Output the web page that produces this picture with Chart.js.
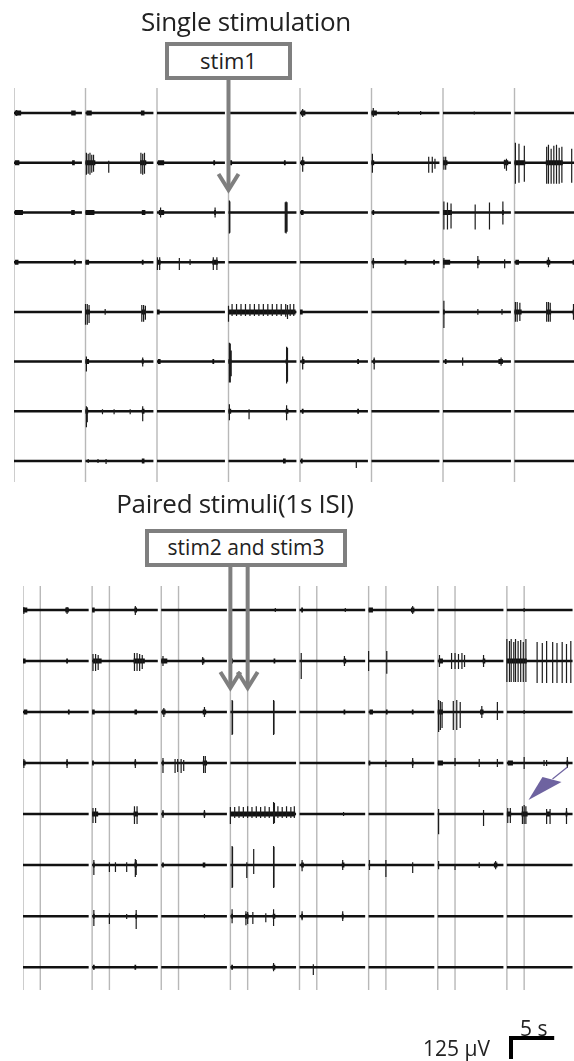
<!DOCTYPE html>
<html>
<head>
<meta charset="utf-8">
<script src="https://cdn.jsdelivr.net/npm/chart.js@4.4.0/dist/chart.umd.min.js"></script>
<style>
  html, body { margin: 0; padding: 0; width: 574px; height: 1061px; overflow: hidden; background: #fff; }
  body { position: relative; font-family: 'Open Sans', sans-serif; color: #222; }
  canvas { position: absolute; left: 0; }
  .txt { position: absolute; white-space: nowrap; line-height: 1; }
  .title { font-size: 26px; width: 400px; text-align: center; letter-spacing: -0.3px; }
  .box { position: absolute; box-sizing: border-box; border: 4px solid #7f7f7f; background: #fff;
         text-align: center; line-height: 29px; }
  .lbl { font-size: 21px; }
</style>
</head>
<body>
<canvas id="mapTop" width="586" height="500" style="top:0"></canvas>
<canvas id="mapBottom" width="576" height="571" style="top:490px"></canvas>

<div class="txt title" style="left:46px; top:8px">Single stimulation</div>
<div class="box" style="left:165px; top:42px; width:127px; height:38px; font-size:22px">stim1</div>

<div class="txt title" style="left:35px; top:490px">Paired stimuli(1s ISI)</div>
<div class="box" style="left:145px; top:529px; width:202px; height:38px; font-size:21px">stim2 and stim3</div>

<div class="txt lbl" style="left:520px; top:1018px">5 s</div>
<div class="txt lbl" style="left:423px; top:1038px">125 µV</div>

<script>
/* MEA raster: 8 x 8 electrodes, one trace per cell */

const N_COLS = 8, N_ROWS = 8;
const COL_SPAN = 8;      // s per electrode column
const TRACE_LEN = 7.6;   // s of trace drawn in each column
const ROW_GAP_TOP = 270, ROW_GAP_BOTTOM = 277;   // µV between rows
const STIM_MARKS_TOP = [0];        // marker lines inside each column (s)
const STIM_MARKS_BOTTOM = [0, 2];
const STIM_TIMES_TOP = [24];       // stim1
const STIM_TIMES_BOTTOM = [24, 26]; // stim2, stim3
const SCALE_T = 5, SCALE_V = 125;  // scale bar: 5 s, 125 µV

// dense activity segments: [col, t0, t1]
const bandsTop = [
  [[0,0.1,0.8],[0,6.4,6.9],[1,0.1,0.7],[1,6.2,6.6],[4,0.1,0.6],[5,0.0,0.6]],
  [[0,0.1,0.6],[0,6.5,6.8],[1,0.0,1.1],[1,6.1,6.8],[2,0.1,0.8],[2,6.3,6.5],[3,0.0,0.4],[3,6.2,6.4],[4,0.1,0.5],[5,0.0,0.3],[6,0.0,0.5],[6,6.8,7.3],[7,0.0,1.2],[7,3.5,5.4]],
  [[0,0.1,1.0],[0,6.4,6.8],[1,0.0,1.0],[1,6.3,6.7],[2,0.2,0.8],[2,6.4,6.6],[4,0.1,0.4],[5,0.1,0.3],[6,0.0,1.0],[6,6.6,6.8]],
  [[0,0.1,0.5],[0,6.7,6.9],[1,0.0,0.4],[1,6.3,6.5],[2,0.0,0.4],[2,6.2,6.8],[5,0.1,0.3],[5,3.7,3.9],[5,6.9,7.1],[6,0.0,0.8],[6,3.8,4.1],[7,0.1,0.5],[7,3.6,4.0],[7,6.5,6.7]],
  [[1,0.0,0.5],[1,6.3,6.7],[2,0.0,0.3],[3,0.0,7.5],[4,0.0,0.3],[6,0.0,0.2],[7,0.0,0.8],[7,3.6,4.1],[7,6.5,6.8]],
  [[1,0.0,0.4],[1,6.3,6.5],[2,0.1,0.4],[2,6.2,6.4],[3,0.0,0.3],[3,6.4,6.6],[4,0.2,0.5],[4,6.4,6.6],[5,0.2,0.4],[6,0.2,0.4],[6,6.2,6.7]],
  [[1,0.0,0.3],[1,6.3,6.6],[3,0.0,0.3],[3,6.4,6.7],[4,0.2,0.4],[4,6.4,6.6]],
  [[1,6.3,6.6],[3,6.1,6.4],[4,0.1,0.3]]
];

// single spikes: [col, t, up µV, down µV]
const spikesTop = [
  [[0,0.3,16,16],[4,0.3,22,22],[5,0.2,27,22],[5,3.0,11,11],[5,5.5,11,11],[6,3.5,8,8]],
  [[1,0.1,54,65],[1,0.3,49,60],[1,0.5,54,65],[1,0.7,43,54],[1,0.9,43,49],[1,2.6,11,54],[1,6.2,54,60],[1,6.4,49,65],[1,6.6,54,60],
   [4,0.3,33,49],[5,0.1,49,54],[5,6.4,33,54],[5,6.8,33,54],[5,7.1,22,33],[6,0.1,33,38],[6,0.3,33,38],[6,6.9,16,33],[6,7.1,22,43],
   [7,0.1,109,114],[7,0.5,103,109],[7,1.1,92,103],[7,3.6,87,114],[7,3.8,98,114],[7,4.1,76,114],[7,4.4,92,114],[7,4.7,98,114],[7,5.0,81,114],[7,5.3,87,109],[7,6.4,76,109]],
  [[2,0.4,27,27],[2,6.5,27,27],[3,0.1,65,114],[3,0.15,60,110],[3,6.35,55,110],[3,6.45,60,114],[3,6.55,55,105],
   [6,0.1,60,92],[6,0.5,54,92],[6,0.9,49,87],[6,3.6,43,92],[6,5.2,54,92],[6,6.7,60,65]],
  [[2,0.05,27,43],[2,0.3,27,43],[2,2.5,22,43],[2,3.7,16,16],[2,6.3,27,43],[2,6.7,27,43],[5,0.2,22,33],[6,0.1,22,33],[6,3.9,33,33],[6,6.9,16,33],[7,3.8,27,27]],
  [[1,0.0,43,70],[1,0.2,43,70],[1,0.4,38,60],[1,2.2,16,16],[1,6.3,38,54],[1,6.5,38,54],[1,6.7,33,43],
   [3,0.0,33,54],[3,0.4,43,22],[3,0.9,43,22],[3,1.4,43,22],[3,1.9,43,22],[3,2.4,43,22],[3,2.9,43,22],[3,3.4,43,22],[3,3.9,43,22],
   [3,4.4,43,22],[3,4.9,43,22],[3,5.4,43,22],[3,5.9,43,22],[3,6.4,43,27],[3,6.6,38,38],[3,6.9,43,22],[3,7.3,43,22],
   [6,0.1,60,87],[6,3.9,16,16],[6,6.6,16,16],[7,0.1,54,54],[7,0.3,54,54],[7,0.6,49,49],[7,3.6,54,54],[7,3.8,54,54],[7,4.0,49,54],[7,6.6,43,43]],
  [[1,0.1,27,54],[1,6.4,22,27],[3,0.1,103,114],[3,0.2,98,114],[3,0.3,60,80],[3,6.5,81,119],[3,6.6,75,110],[4,0.3,27,43],[5,0.3,22,43],[6,2.2,22,22],[6,6.5,22,22]],
  [[1,0.1,27,87],[1,0.2,22,60],[1,1.9,11,16],[1,3.2,11,16],[1,5.0,11,16],[1,6.4,27,54],[3,0.1,38,49],[3,2.3,11,43],[3,6.5,33,49]],
  [[1,0.3,11,11],[1,1.4,11,11],[1,2.3,11,16],[4,6.3,5,38]]
];

const bandsBottom = [
  [[0,0.0,0.5],[0,4.9,5.3],[1,0.0,0.3],[1,4.9,5.2],[4,0.2,0.4],[5,0.0,0.5],[5,4.9,5.3]],
  [[0,0.0,0.3],[0,5.0,5.2],[1,0.1,1.1],[1,4.8,6.1],[2,0.0,0.7],[2,4.7,5.0],[3,0.0,0.3],[3,5.0,5.2],[4,5.1,5.4],[6,0.1,0.6],[6,5.2,5.5],[7,0.0,2.3]],
  [[0,0.1,0.5],[0,5.2,5.4],[1,0.0,0.3],[1,4.9,5.2],[2,0.1,0.5],[2,4.8,5.2],[4,5.1,5.3],[5,0.1,0.5],[5,2.0,2.2],[5,5.0,5.2],[6,0.0,0.6],[6,4.9,5.3]],
  [[0,0.0,0.3],[0,5.0,5.2],[1,0.0,0.2],[1,4.9,5.1],[2,0.1,0.3],[2,4.8,5.3],[5,0.0,0.2],[5,5.0,5.2],[6,0.0,0.6],[7,0.1,0.7],[7,6.9,7.1]],
  [[1,0.0,0.7],[1,4.8,5.3],[2,0.1,0.3],[2,4.9,5.1],[3,0.0,7.5],[7,0.0,0.5],[7,1.7,2.4],[7,4.6,5.0],[7,6.8,7.0]],
  [[1,0.1,0.3],[1,4.9,5.2],[2,0.1,0.3],[2,4.8,5.1],[4,0.2,0.5],[4,4.9,5.2],[6,6.5,6.9]],
  [[1,0.1,0.3],[1,5.0,5.2],[3,0.1,0.3],[3,1.7,2.1],[3,4.9,5.2],[4,0.2,0.4],[4,4.9,5.1]],
  [[1,0.1,0.3],[1,4.9,5.1],[3,0.1,0.3],[3,4.9,5.2]]
];

const spikesBottom = [
  [[0,0.1,16,22],[0,5.1,16,22],[1,5.0,22,27],[3,5.2,11,11],[4,5.3,11,11],[5,5.1,22,22],[7,2.0,11,11]],
  [[1,0.1,38,54],[1,0.4,38,54],[1,0.7,33,49],[1,4.9,43,54],[1,5.2,43,54],[1,5.5,38,54],[1,5.8,33,43],[2,0.2,27,27],[2,4.8,22,22],
   [4,0.2,43,98],[4,5.2,27,27],[5,0.0,54,54],[5,2.1,54,70],[6,0.2,33,33],[6,1.6,43,43],[6,2.0,43,43],[6,2.4,38,43],[6,2.8,43,43],[6,3.1,33,33],[6,5.3,33,33],
   [7,0.0,119,114],[7,0.3,109,114],[7,0.5,119,114],[7,0.8,103,114],[7,1.0,119,114],[7,1.3,109,114],[7,1.6,114,114],[7,1.9,103,114],[7,2.2,119,114],
   [7,3.5,103,119],[7,4.1,98,119],[7,4.6,109,119],[7,5.3,103,119],[7,5.8,98,119],[7,6.4,103,119],[7,6.9,92,119],[7,7.4,109,119]],
  [[2,0.3,22,27],[2,5.0,27,27],[3,0.2,65,125],[3,0.25,60,120],[3,5.0,65,125],[3,5.05,60,120],
   [6,0.1,65,109],[6,0.3,60,98],[6,0.5,54,87],[6,1.8,60,98],[6,2.2,65,98],[6,2.6,54,87],[6,5.1,33,33],[6,6.9,54,43],[7,2.0,11,11]],
  [[0,0.1,22,27],[0,5.1,22,27],[1,5.0,22,27],[2,0.2,27,54],[2,1.6,22,54],[2,1.9,22,49],[2,2.3,22,54],[2,2.6,16,43],[2,4.9,38,54],[2,5.1,38,54],
   [5,2.0,16,22],[5,5.1,27,27],[6,2.0,27,16],[6,4.8,22,22],[6,6.9,22,22],[7,2.0,33,33],[7,4.3,16,16],[7,4.6,16,16],[7,7.0,33,27]],
  [[1,0.1,33,49],[1,0.4,33,49],[1,4.9,43,54],[1,5.2,43,54],[2,0.2,22,22],[2,5.0,22,22],
   [3,0.0,38,54],[3,0.5,38,22],[3,1.0,43,22],[3,1.5,38,22],[3,2.0,43,22],[3,2.5,38,22],[3,3.0,43,22],[3,3.5,38,22],[3,4.0,43,22],[3,4.5,38,22],
   [3,5.0,65,54],[3,5.1,60,49],[3,5.5,43,22],[3,6.0,38,22],[3,6.5,43,22],[3,7.0,38,22],[3,7.4,43,22],
   [4,5.1,11,11],[6,0.1,27,109],[6,5.3,22,65],[7,0.1,33,49],[7,0.4,33,49],[7,1.8,43,54],[7,2.0,49,54],[7,2.2,43,54],[7,4.6,27,54],[7,5.0,27,54],[7,6.9,33,54]],
  [[1,0.2,27,54],[1,2.0,16,38],[1,2.7,16,38],[1,4.0,16,38],[1,5.0,33,65],[1,5.1,27,54],
   [3,0.2,103,125],[3,0.25,98,120],[3,1.9,16,70],[3,2.7,87,49],[3,5.0,103,125],[3,5.05,98,120],
   [4,0.3,27,33],[4,5.0,27,27],[5,0.1,27,27],[5,2.0,27,65],[5,5.1,16,43],[6,0.1,22,22],[6,2.0,5,27],[6,4.8,16,16],[6,6.7,22,22]],
  [[1,0.2,33,54],[1,2.0,16,43],[1,4.0,11,16],[1,5.1,33,70],[2,5.0,11,11],[3,0.2,38,38],[3,1.8,27,49],[3,2.0,22,43],[3,2.6,22,43],[3,4.1,16,33],[3,5.0,38,54],
   [4,0.3,27,22],[4,5.0,27,27]],
  [[3,5.0,22,22],[4,1.6,16,43]]
];

// marked burst (purple arrowhead): [col, t, row]
const ARROW_TARGET = [7, 2.5, 4];

function buildDatasets(bands, spikes, gap, marks, yMin, yMax) {
  const grid = [], base = [], band = [], spk = [];
  for (let c = 0; c < N_COLS; c++) {
    marks.forEach(m => {
      const x = c * COL_SPAN + m;
      grid.push({x, y: yMax}, {x, y: yMin}, {x, y: null});
    });
  }
  for (let r = 0; r < N_ROWS; r++) {
    const y0 = -r * gap;
    for (let c = 0; c < N_COLS; c++) {
      const x0 = c * COL_SPAN;
      base.push({x: x0, y: y0}, {x: x0 + TRACE_LEN, y: y0}, {x: x0 + TRACE_LEN, y: null});
    }
    bands[r].forEach(([c, t0, t1]) => {
      const x0 = c * COL_SPAN;
      band.push({x: x0 + t0, y: y0}, {x: x0 + t1, y: y0}, {x: x0 + t1, y: null});
    });
    spikes[r].forEach(([c, t, up, dn]) => {
      const x = c * COL_SPAN + t;
      spk.push({x, y: y0 + up}, {x, y: y0 - dn}, {x, y: null});
    });
  }
  return [
    { data: spk,  borderColor: '#1c1c1c', borderWidth: 1.2, order: 0 },
    { data: band, borderColor: '#111',    borderWidth: 5,   order: 1, borderCapStyle: 'butt' },
    { data: base, borderColor: '#111',    borderWidth: 2.5, order: 2 },
    { data: grid, borderColor: '#b8b8b8', borderWidth: 1.4, order: 3 }
  ];
}

const stimArrows = {
  id: 'stimArrows',
  afterDatasetsDraw(chart, args, opts) {
    const {ctx, scales: {x}} = chart;
    ctx.save();
    ctx.strokeStyle = '#7f7f7f';
    ctx.lineWidth = 4;
    opts.times.forEach(t => {
      const px = x.getPixelForValue(t);
      ctx.beginPath();
      ctx.moveTo(px, opts.from);
      ctx.lineTo(px, opts.to - 3);
      ctx.stroke();
      ctx.beginPath();
      ctx.moveTo(px - 10, opts.to - 18);
      ctx.lineTo(px, opts.to - 2);
      ctx.lineTo(px + 10, opts.to - 18);
      ctx.stroke();
    });
    ctx.restore();
  }
};

const scaleBar = {
  id: 'scaleBar',
  afterDraw(chart, args, opts) {
    if (!opts.show) return;
    const {ctx, scales: {x, y}} = chart;
    const w = x.getPixelForValue(SCALE_T) - x.getPixelForValue(0);
    const h = y.getPixelForValue(-SCALE_V) - y.getPixelForValue(0);
    ctx.save();
    ctx.strokeStyle = '#000';
    ctx.lineWidth = 4;
    ctx.beginPath();
    ctx.moveTo(opts.x + 2, opts.y + h);
    ctx.lineTo(opts.x + 2, opts.y + 2);
    ctx.lineTo(opts.x + w + 2, opts.y + 2);
    ctx.stroke();
    ctx.restore();
  }
};

const burstArrow = {
  id: 'burstArrow',
  afterDatasetsDraw(chart, args, opts) {
    if (!opts.show) return;
    const {ctx, scales: {x, y}} = chart;
    const [c, t, r] = ARROW_TARGET;
    const tx = x.getPixelForValue(c * COL_SPAN + t);
    const ty = y.getPixelForValue(-r * ROW_GAP_BOTTOM) - 14;
    ctx.save();
    ctx.fillStyle = '#6e63a0';
    ctx.strokeStyle = '#6e63a0';
    ctx.beginPath();
    ctx.moveTo(tx, ty);
    ctx.lineTo(tx + 14, ty - 23);
    ctx.lineTo(tx + 33, ty - 18);
    ctx.closePath();
    ctx.fill();
    ctx.lineWidth = 1.2;
    ctx.beginPath();
    ctx.moveTo(tx + 24, ty - 21);
    ctx.lineTo(tx + 39, ty - 33);
    ctx.stroke();
    ctx.restore();
  }
};

function makeMap(id, bands, spikes, gap, marks, yMax, yMin, pad, plugOpts) {
  return new Chart(document.getElementById(id), {
    type: 'line',
    data: { datasets: buildDatasets(bands, spikes, gap, marks, yMin, yMax) },
    options: {
      responsive: false,
      animation: false,
      events: [],
      spanGaps: false,
      layout: { padding: pad },
      elements: { point: { radius: 0 }, line: { tension: 0, fill: false } },
      plugins: Object.assign({ legend: { display: false }, tooltip: { enabled: false } }, plugOpts),
      scales: {
        x: { type: 'linear', min: 0, max: N_COLS * COL_SPAN, display: false },
        y: { type: 'linear', min: yMin, max: yMax, display: false }
      }
    },
    plugins: [stimArrows, scaleBar, burstArrow]
  });
}

makeMap('mapTop', bandsTop, spikesTop, ROW_GAP_TOP, STIM_MARKS_TOP, 136, -2004,
  { left: 14, top: 88, right: 0, bottom: 18 },
  { stimArrows: { times: STIM_TIMES_TOP, from: 78, to: 192 }, scaleBar: { show: false }, burstArrow: { show: false } });

makeMap('mapBottom', bandsBottom, spikesBottom, ROW_GAP_BOTTOM, STIM_MARKS_BOTTOM, 130, -2063,
  { left: 23, top: 96, right: 0, bottom: 71 },
  { stimArrows: { times: STIM_TIMES_BOTTOM, from: 75, to: 200 }, scaleBar: { show: true, x: 509, y: 546 }, burstArrow: { show: true } });
</script>
</body>
</html>
